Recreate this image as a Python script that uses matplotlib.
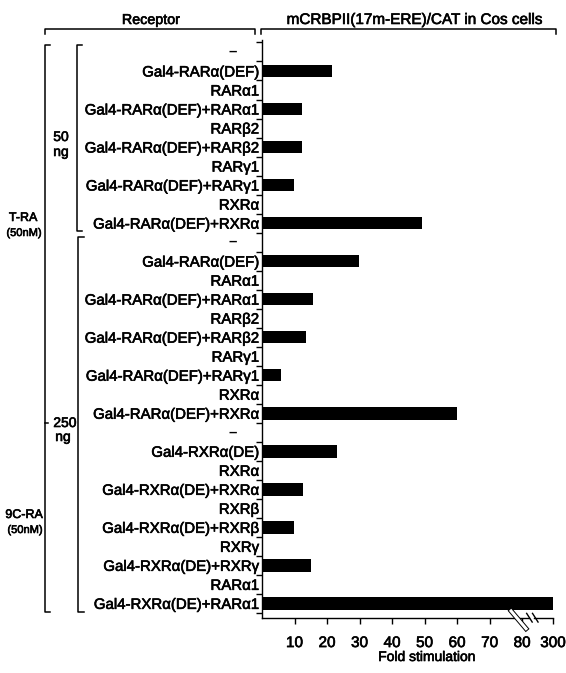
import matplotlib

matplotlib.use("Agg")
import matplotlib.patheffects as pe
import matplotlib.transforms as mtransforms
from matplotlib import pyplot as plt
from matplotlib.lines import Line2D

plt.rcParams["font.family"] = ["Liberation Sans", "DejaVu Sans"]

W, H = 566, 673

receptors = [
    "–", "Gal4-RARα(DEF)", "RARα1", "Gal4-RARα(DEF)+RARα1", "RARβ2",
    "Gal4-RARα(DEF)+RARβ2", "RARγ1", "Gal4-RARα(DEF)+RARγ1", "RXRα",
    "Gal4-RARα(DEF)+RXRα",
    "–", "Gal4-RARα(DEF)", "RARα1", "Gal4-RARα(DEF)+RARα1", "RARβ2",
    "Gal4-RARα(DEF)+RARβ2", "RARγ1", "Gal4-RARα(DEF)+RARγ1", "RXRα",
    "Gal4-RARα(DEF)+RXRα",
    "–", "Gal4-RXRα(DE)", "RXRα", "Gal4-RXRα(DE)+RXRα", "RXRβ",
    "Gal4-RXRα(DE)+RXRβ", "RXRγ", "Gal4-RXRα(DE)+RXRγ", "RARα1",
    "Gal4-RXRα(DE)+RARα1",
]
fold = [
    0, 21.6, 0, 12.2, 0, 12.2, 0, 9.8, 0, 49.1,
    0, 29.8, 0, 15.8, 0, 13.5, 0, 5.8, 0, 59.9,
    0, 23.2, 0, 12.7, 0, 9.8, 0, 15.0, 0, 300,
]
tick_values = [10, 20, 30, 40, 50, 60, 70, 80, 300]

# slightly heavier type, like the printed figure
heavy = [pe.withStroke(linewidth=0.45, foreground="black")]


def brk(v):
    # broken axis: 0-80 linear, then jump so 300 sits at the right end
    return v if v <= 85 else 89.5 + (v - 300) * 0.05


fig = plt.figure(figsize=(W / 100, H / 100), dpi=100)
ax = fig.add_axes([262 / W, 1 - 618 / H, 291 / W, 578 / H])

rows = list(range(len(receptors)))
widths = [brk(v) for v in fold]
ax.barh(rows, widths, height=0.66, color="black")

ax.set_xlim(0, 89.5)
ax.set_ylim(29.77, -0.63)

# labels on the rows, short ticks between rows
ax.set_yticks(rows)
ax.set_yticklabels(["" if r == "–" else r for r in receptors], fontsize=10.8)
ax.tick_params(axis="y", which="major", length=0, pad=2)
ax.set_yticks([r - 0.5 for r in rows] + [rows[-1] + 0.5], minor=True)
ax.tick_params(axis="y", which="minor", length=4, width=1, direction="out")
for r, name in zip(rows, receptors):
    if name == "–":
        ax.annotate("–", xy=(0, r), xycoords=("axes fraction", "data"),
                    xytext=(-25, 0), textcoords="offset pixels",
                    ha="right", va="center", fontsize=10.8,
                    fontweight="bold")

ax.set_xticks([brk(v) for v in tick_values])
ax.set_xticklabels([str(v) for v in tick_values], fontsize=11)
ax.tick_params(axis="x", length=4, width=1, direction="out", pad=9)

for lbl in ax.get_xticklabels() + ax.get_yticklabels():
    lbl.set_path_effects(heavy)

for s in ("top", "right", "bottom"):
    ax.spines[s].set_visible(False)
ax.spines["left"].set_linewidth(1)

# bottom axis with the break marks
xt = ax.get_xaxis_transform()
ax.plot([0, 82.0], [0, 0], color="black", lw=1, transform=xt, clip_on=False)
ax.plot([83.6, 89.5], [0, 0], color="black", lw=1, transform=xt, clip_on=False)
for x0 in (81.4, 83.2):
    ax.plot([x0, x0 + 1.7], [0.008, -0.007], color="black", lw=1,
            transform=xt, clip_on=False)

# break across the 300-fold bar
ax.plot([76.6, 81.2], [29.4, 30.33], color="white", lw=2.2, clip_on=False,
        path_effects=[pe.Stroke(linewidth=3.6, foreground="black"), pe.Normal()])

# brackets on the left, x in figure pixels, y in row units
bt = mtransforms.blended_transform_factory(fig.transFigure, ax.transData)


def bracket(x, y0, y1, tick=5):
    xs = [(x + tick) / W, x / W, x / W, (x + tick) / W]
    fig.add_artist(Line2D(xs, [y0, y0, y1, y1], color="black", lw=1.1,
                          transform=bt))


bracket(45, -0.37, 29.45)
fig.add_artist(Line2D([45 / W, 48 / W], [19.5, 19.5], color="black", lw=1.1,
                      transform=bt))
bracket(77, -0.37, 9.42)
bracket(78, 9.73, 29.45, tick=6)


def ftext(x, y, s, size, **kw):
    fig.text(x / W, 1 - y / H, s, ha="center", va="center", fontsize=size,
             path_effects=heavy, **kw)


ftext(427, 657, "Fold stimulation", 10)
ftext(23, 218, "T-RA", 9)
ftext(24, 233, "(50nM)", 8)
ftext(24, 515, "9C-RA", 9)
ftext(25, 530, "(50nM)", 8)
ftext(61, 137, "50", 10)
ftext(61, 152, "ng", 10)
ftext(65, 423, "250", 10)
ftext(63, 437, "ng", 10)

# column headers with their brackets
ftext(151, 20, "Receptor", 10.3)
ftext(414, 20, "mCRBPII(17m-ERE)/CAT in Cos cells", 11)
for x0, x1 in ((45, 255), (261, 556)):
    fig.add_artist(Line2D([x0 / W, x0 / W, x1 / W, x1 / W],
                          [1 - 34 / H, 1 - 29 / H, 1 - 29 / H, 1 - 34 / H],
                          color="black", lw=1.1, transform=fig.transFigure))

fig.savefig("out.png", dpi=100)
